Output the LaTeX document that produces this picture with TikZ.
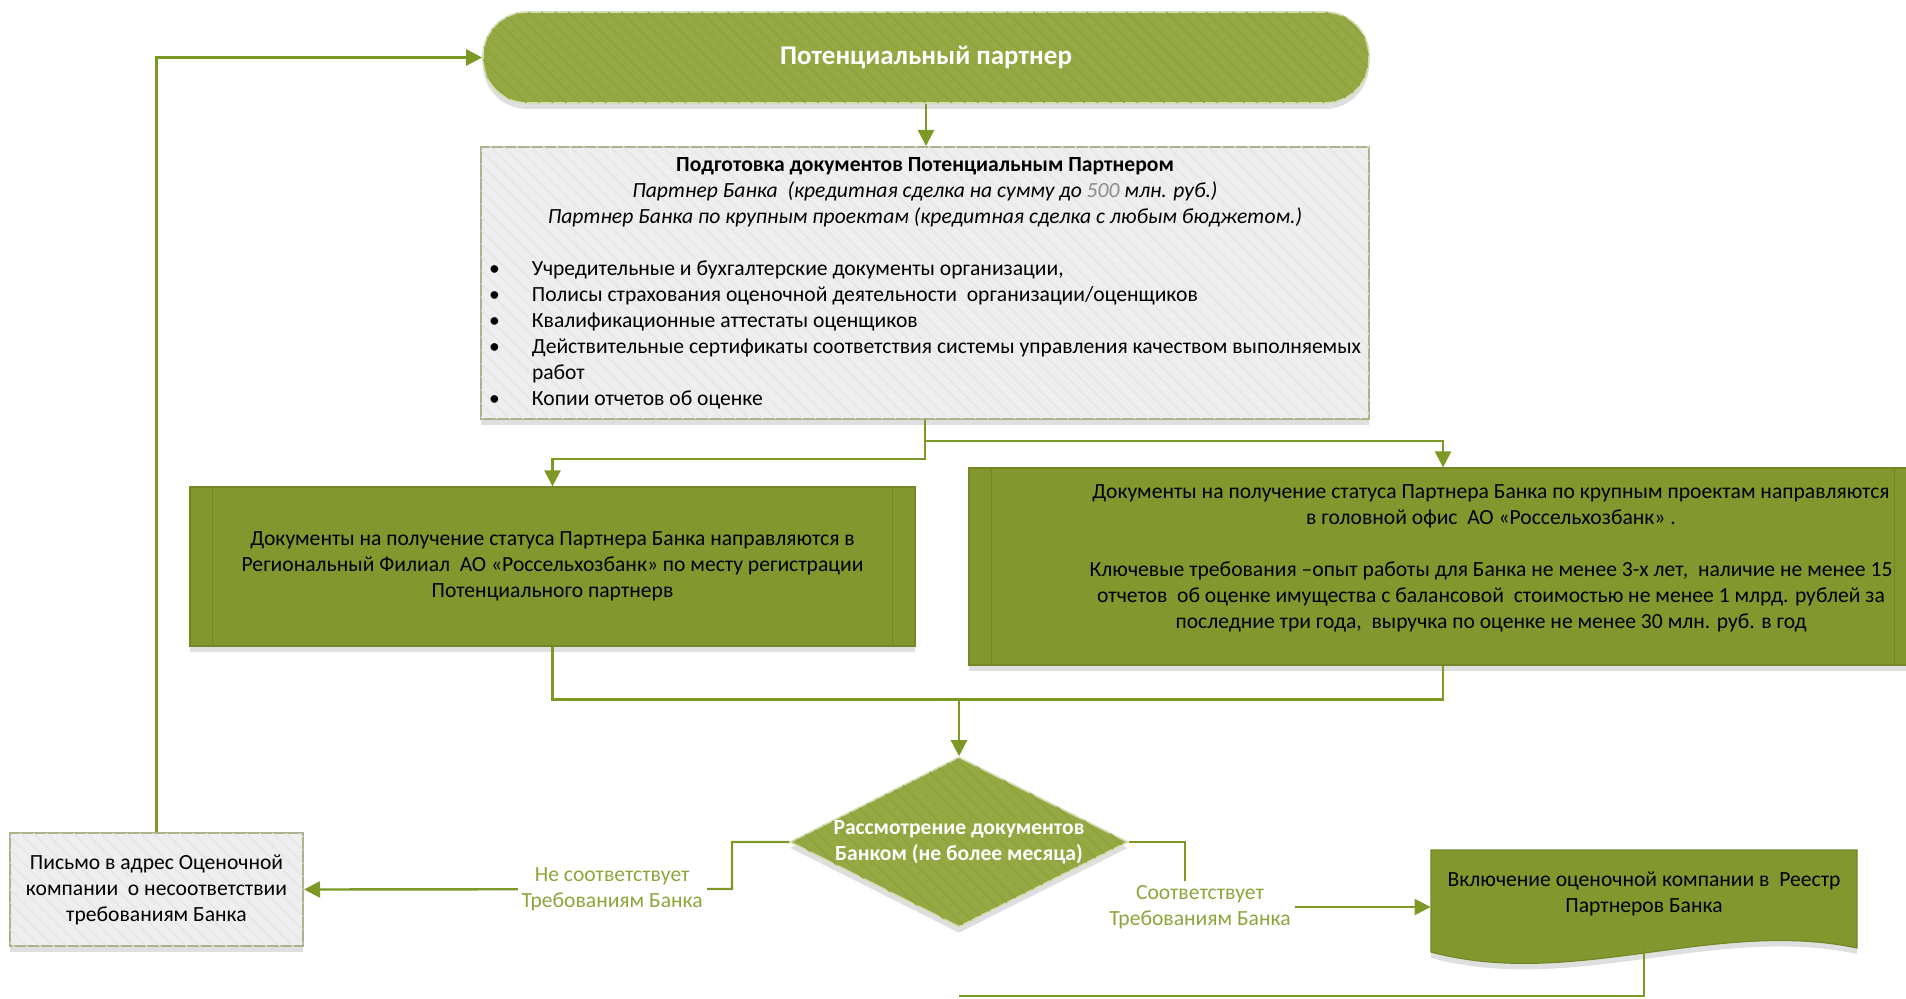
\documentclass[tikz,border=0pt]{standalone}
\usepackage{fontspec}
\setmainfont{Carlito}
\usetikzlibrary{shapes.geometric,arrows.meta,shadows,patterns.meta}

\definecolor{olivelt}{RGB}{148,169,67}
\definecolor{olivedk}{RGB}{130,152,46}
\definecolor{olivebd}{RGB}{114,136,38}
\definecolor{linkcol}{RGB}{126,152,38}
\definecolor{lblcol}{RGB}{140,166,58}
\definecolor{greyfill}{RGB}{238,238,238}
\definecolor{greybd}{RGB}{170,180,140}

\newcommand{\bul}{\makebox[21.5pt][l]{\textbullet}}

\begin{document}
\begin{tikzpicture}
  [x=0.5pt,y=-0.5pt,
   every node/.style={font=\fontsize{10.8}{13}\selectfont,align=center,inner sep=0pt},
   softshadow/.style={drop shadow={opacity=.25,shadow xshift=0pt,shadow yshift=-3pt}},
   hatch/.style={postaction={pattern={Lines[angle=-45,distance=4.7pt,line width=.5pt]},pattern color=#1}},
   term/.style={rectangle,rounded corners=22pt,fill=olivelt,draw=olivelt!40,line width=.8pt,
     softshadow,hatch=olivedk!45!olivelt,text=white,font=\fontsize{13.5}{16}\selectfont\bfseries},
   greybox/.style={rectangle,fill=greyfill,draw=greybd,line width=1pt,softshadow,hatch=black!4!greyfill},
   procbox/.style={rectangle,fill=olivedk,draw=olivebd,line width=.6pt,softshadow},
   check/.style={diamond,aspect=2,fill=olivelt,draw=olivelt!40,line width=.8pt,softshadow,
     hatch=olivedk!45!olivelt,text=white,font=\fontsize{10.8}{13}\selectfont\bfseries},
   lbl/.style={fill=white,text=lblcol,inner sep=2pt},
   wire/.style={draw=linkcol,line width=1.2pt},
   link/.style={wire,-{Triangle[width=8pt,length=8pt]}}]
  \path[use as bounding box] (0,0) rectangle (1906,999);
  \clip (0,0) rectangle (1906,999);

  \node[term,minimum width=443pt,minimum height=45.5pt] (term) at (926,57.5) {Потенциальный партнер};
  \node[greybox,minimum width=444pt,minimum height=136pt] (prep) at (925,283) {%
    \begin{minipage}{436pt}\centering
    \textbf{Подготовка документов Потенциальным Партнером}\\
    \textit{Партнер Банка \ (кредитная сделка на сумму до {\color{black!45}500} млн. руб.)}\\
    \textit{Партнер Банка по крупным проектам (кредитная сделка с любым бюджетом.)}\\[13pt]
    \raggedright
    \bul\mbox{Учредительные и бухгалтерские документы организации,}\\
    \bul\mbox{Полисы страхования оценочной деятельности \ организации/оценщиков}\\
    \bul\mbox{Квалификационные аттестаты оценщиков}\\
    \bul\mbox{Действительные сертификаты соответствия системы управления качеством выполняемых}\\
    \hspace*{21.5pt}работ\\
    \bul\mbox{Копии отчетов об оценке}
    \end{minipage}};
  \node[procbox,minimum width=362.5pt,minimum height=79.5pt] (reg) at (552.5,566.5)
    {Документы на получение статуса Партнера Банка направляются в\\
     Региональный Филиал \ АО «Россельхозбанк» по месту регистрации\\
     Потенциального партнерв};
  \node[procbox,minimum width=474pt,minimum height=98.5pt] (hq) at (1443,566.5) {};
  \node (hqtxt) at (1491,558)
    {Документы на получение статуса Партнера Банка по крупным проектам направляются\\
     в головной офис \ АО «Россельхозбанк» .\\[13pt]
     Ключевые требования –опыт работы для Банка не менее 3-х лет, \ наличие не менее 15\\
     отчетов \ об оценке имущества с балансовой \ стоимостью не менее 1 млрд. рублей за\\
     последние три года, \ выручка по оценке не менее 30 млн. руб. в год};
  \foreach \n in {reg,hq}{
    \draw[olivebd,line width=.6pt] ([xshift=11.5pt]\n.north west) -- ([xshift=11.5pt]\n.south west);
    \draw[olivebd,line width=.6pt] ([xshift=-11.5pt]\n.north east) -- ([xshift=-11.5pt]\n.south east);
  }
  \node[check,minimum width=168pt,minimum height=85pt] (rev) at (959,842)
    {Рассмотрение документов\\Банком (не более месяца)};
  \node[greybox,minimum width=146.5pt,minimum height=56.5pt] (letter) at (156.5,889.5)
    {Письмо в адрес Оценочной\\компании \ о несоответствии\\требованиям Банка};
  \fill[olivedk,draw=olivebd,line width=.6pt,softshadow] (1431,850) -- (1857,850) -- (1857,948)
    .. controls (1715,918) and (1573,990) .. (1431,952) -- cycle;
  \node[minimum width=213pt,minimum height=50pt] (incl) at (1644,894)
    {Включение оценочной компании в \ Реестр\\Партнеров Банка};

  \draw[link] (term.south) -- (prep.north -| term.south);
  \draw[link] (prep.south) -- ++(0,39) -| (reg.north);
  \draw[link] (prep.south) -- ++(0,21) -| (hq.north);
  \draw[wire] (reg.south) -- ++(0,53) -| (hq.south);
  \coordinate (join) at (959,699);
  \draw[link] (join) -- (rev.north);
  \draw[link] (rev.west) -| (732,889) -- node[lbl,pos=.28] (no) {Не соответствует\\Требованиям Банка} (letter.east);
  \draw[link] (rev.east) -| (1185,907) node[lbl,xshift=7.5pt] (yes) {Соответствует\\Требованиям Банка} -- (incl.west |- 1185,907);
  \draw[link] (letter.north) |- (term.west);
  \coordinate (next) at (959,996);
  \draw[wire] (incl.south) |- (next);
\end{tikzpicture}
\end{document}
